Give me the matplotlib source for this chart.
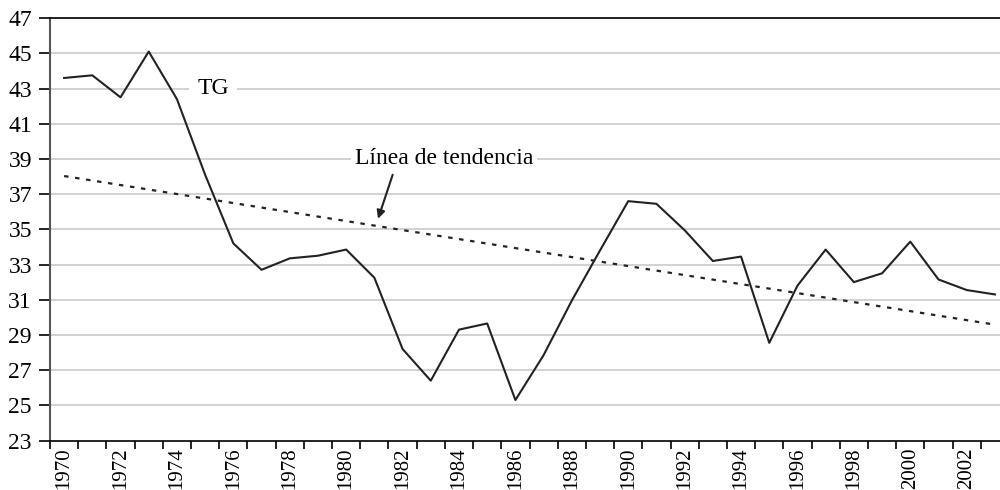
import matplotlib
matplotlib.use("Agg")
import matplotlib.pyplot as plt
import numpy as np

plt.rcParams['font.family'] = ['Liberation Serif', 'DejaVu Serif']

years = list(range(1970, 2004))
tg = [43.6, 43.75, 42.5, 45.1, 42.4, 38.1, 34.2, 32.7, 33.35, 33.5,
      33.85, 32.25, 28.2, 26.4, 29.3, 29.65, 25.3, 27.85, 30.95, 33.8,
      36.6, 36.45, 34.95, 33.2, 33.45, 28.55, 31.8, 33.85, 32.0, 32.5,
      34.3, 32.15, 31.55, 31.3]
yticks = list(range(23, 48, 2))

# linear trend fitted to the series (as the spreadsheet trendline)
x = np.arange(len(years))
slope, inter = np.polyfit(x, tg, 1)
trend = slope * x + inter

fig = plt.figure(figsize=(10, 4.9), dpi=100)
ax = fig.add_axes([0.05, 0.101, 0.959, 0.862])

for v in yticks[1:]:
    ax.axhline(v, color='#d2d2d2', lw=1.4, zorder=0)

ax.plot(x, tg, color='#222222', lw=1.5, zorder=3)
ax.plot(x, trend, color='#222222', lw=1.6, dashes=(2, 3), zorder=3)

ax.set_xlim(-0.5, len(years) - 0.5)
ax.set_ylim(23, 47)
ax.set_yticks(yticks)
ax.set_yticklabels([str(v) for v in yticks], fontsize=17)
ax.set_xticks(np.arange(len(years) + 1) - 0.5)
ax.set_xticklabels([])
ax.set_xticks(x[::2], minor=True)
ax.set_xticklabels([str(y) for y in years[::2]], minor=True, rotation=90, fontsize=15)
ax.tick_params(axis='x', which='minor', length=0, pad=5)
ax.tick_params(axis='x', which='major', length=6, width=1.2, direction='out')
ax.tick_params(axis='y', length=8, width=1.2, direction='out', pad=5)

ax.spines['right'].set_visible(False)
ax.spines['left'].set_color('#555555')
ax.spines['left'].set_linewidth(1.5)
ax.spines['bottom'].set_linewidth(1.2)
ax.spines['top'].set_linewidth(1.2)

ax.text(5.28, 43, 'TG', fontsize=17, ha='center', va='center', zorder=2,
        bbox=dict(facecolor='white', edgecolor='none', pad=6))
ax.text(13.47, 39, 'Línea de tendencia', fontsize=17, ha='center', va='center', zorder=2,
        bbox=dict(facecolor='white', edgecolor='none', pad=3))
ax.annotate('', xy=(11.1, 35.45), xytext=(11.68, 38.25), zorder=4,
            arrowprops=dict(arrowstyle='-|>', color='#222222', lw=1.5, mutation_scale=12))

fig.savefig('out.png', dpi=100)
